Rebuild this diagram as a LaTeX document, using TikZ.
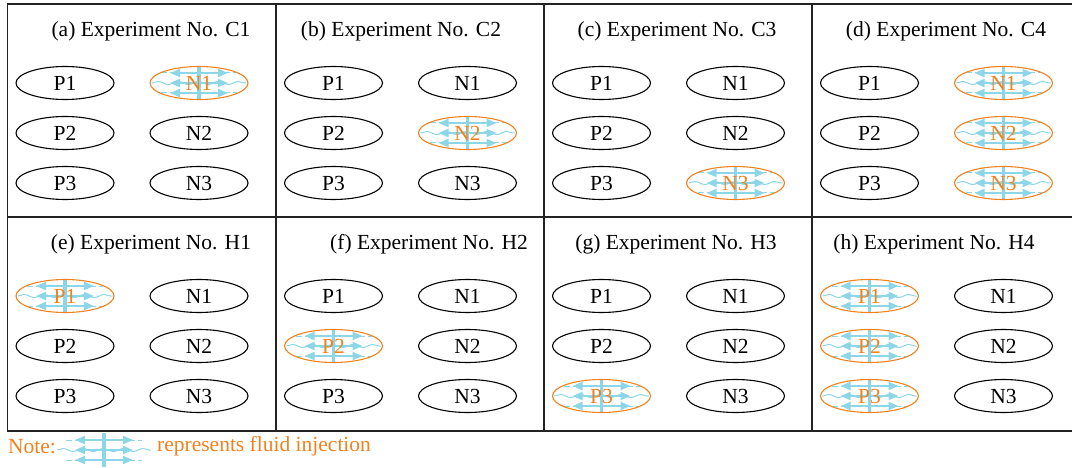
\documentclass[tikz,border=0pt]{standalone}
\usepackage{fontspec}
\setmainfont{Liberation Serif}
\usetikzlibrary{shapes.geometric,arrows.meta,decorations.pathmorphing}

\definecolor{framegray}{RGB}{35,35,35}
\definecolor{inj}{RGB}{240,130,30}
\definecolor{fluid}{RGB}{140,214,232}

\tikzset{
  every node/.style={font=\fontsize{21.5}{24}\selectfont},
  cold/.style={ellipse, draw=black, line width=1.1pt,
    minimum width=98pt, minimum height=33pt, inner sep=0pt},
  hot/.style={cold, draw=inj, text=inj,
    path picture={\pic at (path picture bounding box.center) {inject};}},
  flow/.style={fluid, line width=1pt},
  jet/.style={fluid, line width=1.9pt, -{Triangle[length=10pt,width=8pt]}},
  % fluid-injection glyph: central well line, outward arrows, seeping flow
  inject/.pic={
    \draw[flow, decorate, decoration={snake, segment length=20pt, amplitude=1.5pt}]
      (-47,0) -- (47,0);
    \foreach \yy in {-10,10}
      \draw[flow, dash pattern=on 6pt off 3pt] (-38,\yy) -- (38,\yy);
    \foreach \yy in {-10,0,10}{
      \draw[jet] (0,\yy) -- (29,\yy);
      \draw[jet] (0,\yy) -- (-29,\yy);
    }
    \draw[fluid, line width=3.5pt] (0,-17) -- (0,17);
  }
}

% one experiment panel: id, left edge, top edge, caption centre, caption, well states per row
\newcommand\panel[6]{%
  \node (#1-cap) at (#4,#3+27) {#5};
  \foreach [count=\r] \ps/\ns in {#6}{
    \node[\ps] (#1-P\r) at (#2+57.5,#3+29+50*\r) {P\r};
    \node[\ns] (#1-N\r) at (#2+191.5,#3+29+50*\r) {N\r};
  }%
}

\begin{document}
\begin{tikzpicture}[x=1pt,y=-1pt]
\useasboundingbox (0,0) rectangle (1072,468);

% frame and panel grid
\draw[framegray, line width=1.3pt] (1072,4) -- (7.5,4) -- (7.5,431) -- (1072,431);
\draw[framegray, line width=1.3pt] (7.5,217) -- (1072,217);
\foreach \x in {276,544,812}
  \draw[framegray, line width=1.3pt] (\x,4) -- (\x,431);

% top row: cold-water experiments
\panel{a}{7.5}{4}{151}{(a) Experiment No. C1}{cold/hot, cold/cold, cold/cold}
\panel{b}{276}{4}{401}{(b) Experiment No. C2}{cold/cold, cold/hot, cold/cold}
\panel{c}{544}{4}{677}{(c) Experiment No. C3}{cold/cold, cold/cold, cold/hot}
\panel{d}{812}{4}{946}{(d) Experiment No. C4}{cold/hot, cold/hot, cold/hot}

% bottom row: hot-water experiments
\panel{e}{7.5}{217}{151}{(e) Experiment No. H1}{hot/cold, cold/cold, cold/cold}
\panel{f}{276}{217}{429}{(f) Experiment No. H2}{cold/cold, hot/cold, cold/cold}
\panel{g}{544}{217}{676}{(g) Experiment No. H3}{cold/cold, cold/cold, hot/cold}
\panel{h}{812}{217}{934}{(h) Experiment No. H4}{hot/cold, hot/cold, hot/cold}

% legend
\node[anchor=west, text=inj, inner sep=0pt] (note) at (8,447) {Note:};
\pic at (104,450) {inject};
\node[anchor=west, text=inj, inner sep=0pt] (legend) at (157,446) {represents fluid injection};
\end{tikzpicture}
\end{document}
